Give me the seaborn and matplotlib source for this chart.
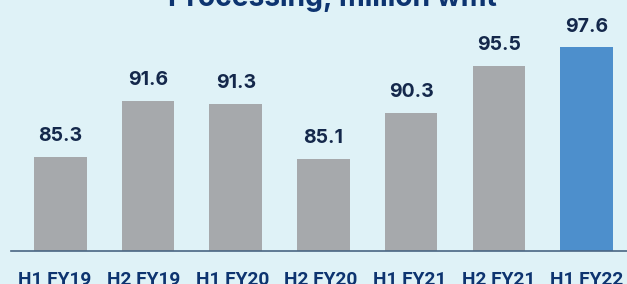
import pandas as pd
import seaborn as sns
import matplotlib.pyplot as plt
from matplotlib.transforms import ScaledTranslation

# Processing volumes by half-year
periods = ['H1 FY19', 'H2 FY19', 'H1 FY20', 'H2 FY20', 'H1 FY21', 'H2 FY21', 'H1 FY22']
volumes = [85.3, 91.6, 91.3, 85.1, 90.3, 95.5, 97.6]
bar_colors = ['#a6a9ac'] * 6 + ['#4d8fcc']

bg = '#dff2f7'
navy = '#14284b'

plt.rcParams['font.family'] = ['Inter', 'DejaVu Sans']

df = pd.DataFrame({'period': periods, 'volume': volumes})

fig = plt.figure(figsize=(6.27, 2.84), dpi=100, facecolor=bg)
ax = fig.add_axes([11 / 627, 33.3 / 284, 616 / 627, 230 / 284])
ax.set_facecolor(bg)

sns.barplot(data=df, x='period', y='volume', hue='period', palette=bar_colors,
            legend=False, width=0.6, saturation=1, ax=ax)

ax.set_ylim(74.8, 100.6)
ax.set_xlim(-0.564, 6.462)

for i, v in enumerate(volumes):
    ax.annotate(f'{v:.1f}', (i, v), xytext=(0, 8.5), textcoords='offset points',
                ha='center', va='bottom', fontsize=14, fontweight='bold', color=navy)

for s in ['top', 'right', 'left']:
    ax.spines[s].set_visible(False)
ax.spines['bottom'].set_color('#4a6683')
ax.spines['bottom'].set_linewidth(1.2)
ax.set_yticks([])
ax.set_xlabel('')
ax.set_ylabel('')
ax.tick_params(axis='x', length=0, pad=14.5, labelsize=13.8, labelcolor='#0d3470')
# labels sit on a slightly wider spacing than the bars
for i, lbl in enumerate(ax.get_xticklabels()):
    lbl.set_fontweight('bold')
    lbl.set_fontfamily(['Roboto', 'DejaVu Sans'])
    dx = (-5.5 + 1.0 * i) / 100
    lbl.set_transform(lbl.get_transform() + ScaledTranslation(dx, 0, fig.dpi_scale_trans))

fig.text(332 / 627, 1 - 5.5 / 284, 'Processing, million wmt', ha='center', va='baseline',
         fontsize=20.3, fontweight='bold', color='#0d3470')

fig.savefig('out.png', dpi=100, facecolor=bg)
